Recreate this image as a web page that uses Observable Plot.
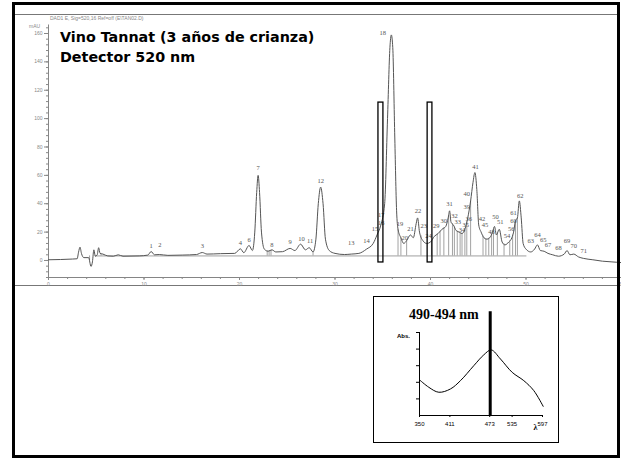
<!DOCTYPE html>
<html><head><meta charset="utf-8">
<script src="https://cdn.jsdelivr.net/npm/d3@7"></script>
<script src="https://cdn.jsdelivr.net/npm/@observablehq/plot@0.6"></script>
<style>
html,body{margin:0;padding:0;background:#fff;}
body{width:621px;height:459px;overflow:hidden;position:relative;font-family:"Liberation Sans",Arial,sans-serif;}
#frame{position:absolute;left:12px;top:2px;width:602px;height:450px;border:3px solid #000;pointer-events:none;z-index:10;}
#topline{position:absolute;left:15px;top:14px;width:603px;border-top:1px solid #777;}
#botline{position:absolute;left:15px;top:285px;width:603px;border-top:1px solid #777;}
#chrom{position:absolute;left:14px;top:14px;width:620px;height:271px;}
#chrom svg{overflow:visible;max-width:none !important;}
#title{position:absolute;left:60px;top:27px;font-family:"DejaVu Sans",sans-serif;font-weight:bold;font-size:14.3px;line-height:20px;color:#000;z-index:5;}
#hdr{position:absolute;left:50px;top:15px;font-size:5px;color:#888;white-space:nowrap;}
#mau{position:absolute;left:29px;top:23px;font-size:5px;color:#888;}
#insetbox{position:absolute;left:373px;top:296px;width:184px;height:145px;border:1.5px solid #000;background:#fff;}
#inset{position:absolute;left:373px;top:296px;width:186px;height:147px;}
#inset svg{overflow:visible;max-width:none !important;}
#ititle{position:absolute;left:409px;top:307px;font-family:"Liberation Serif",serif;font-weight:bold;font-size:14px;color:#000;white-space:nowrap;}
#abs{position:absolute;left:397px;top:333px;font-size:6px;font-weight:bold;color:#000;}
</style></head>
<body>
<div id="topline"></div>
<div id="botline"></div>
<div id="hdr">DAD1 E, Sig=520,16 Ref=off (E\TAN02.D)</div>
<div id="mau">mAU</div>
<div id="chrom"></div>
<div id="title">Vino Tannat (3 años de crianza)<br>Detector 520 nm</div>
<div id="insetbox"></div>
<div id="inset"></div>
<div id="ititle">490-494 nm</div>
<div id="abs">Abs.</div>
<div id="frame"></div>
<script>
// ---- Chromatogram data (retention time, min ; absorbance, mAU) ----
const traceT = [0,2.5,3.0,3.15,3.3,3.45,3.7,4.2,4.45,4.6,4.75,4.9,5.1,5.25,5.4,5.7,6.2,6.8,7.3,7.8,9.5,10.4,10.75,11.1,11.6,12.5,14,15.5,16.1,16.6,18,19.5,20.1,20.45,21.0,21.35,21.6,21.8,21.95,22.1,22.3,22.6,23.0,23.4,23.8,24.5,25.3,25.8,26.4,26.9,27.3,27.7,28.0,28.25,28.5,28.75,29.0,29.4,30.0,31.0,31.7,32.5,33.3,34.0,34.4,34.8,35.2,35.5,35.75,35.9,36.05,36.25,36.45,36.6,36.9,37.2,37.5,37.9,38.2,38.5,38.65,38.85,39.2,39.6,40.0,40.4,40.8,41.2,41.6,41.85,42.0,42.15,42.4,42.7,43.0,43.3,43.6,43.9,44.2,44.45,44.65,44.85,45.05,45.3,45.6,45.9,46.2,46.5,46.7,46.9,47.2,47.5,47.8,48.2,48.45,48.7,48.9,49.1,49.3,49.5,49.7,50.0,50.5,50.9,51.2,51.5,51.9,52.3,52.8,53.4,54.0,54.3,54.6,55.0,55.5,56.0,57.0,58.0,59.0,60.0];
const traceV = [0.5,1.0,1.2,6,9.4,5,2,2,-4.2,-1,7.5,3,4,9,5,4.5,3.2,3,4,3,3.2,3.8,6.3,4,4.2,3.6,3.8,4.2,5.6,4.5,4.8,5,8.2,5.5,10.6,7,20,48,60,48,20,8,6.5,7.5,6,6.2,8.5,7,11.5,7.5,9,6,15,40,51.7,40,15,7,5,4.2,4.5,5,8,12,18,25,40,100,150,159,150,90,35,22,16,12,14,18,16,26,30,20,14,12,13,17,19,22,24,30,35,27,25,21,20,19,22,30,42,55,62,50,25,20,16,15,16,20,24,18,22,13,11,13,15,20,28,30,42,30,12,8,6,8,11,7,6.5,5,4,3,4.5,7,4,4.5,2.5,1.5,0.5,-0.5,-1,-1.5];
const baselineT = [4.9, 50];
const baselineV = [3.2, 3.2];
const dropT = [4.3,4.9,5.5,22.9,23.1,23.3,27.7,36.6,36.9,37.5,39.0,40.1,40.7,41.0,41.4,41.9,42.3,42.5,42.8,43.1,43.3,43.6,43.8,44.2,45.5,45.8,46.1,46.4,46.6,47.0,47.7,48.3,48.6,48.9,49.1];
const peakLabels = ["1","2","3","4","6","7","8","9","10","11","12","13","14","15","16","17","18","19","20","21","22","23","24","29","30","31","32","33","34","35","36","39","40","41","42","45","48","50","51","54","56","60","61","62","63","64","65","67","68","69","70","71"];
const labelT = [10.75,11.65,16.1,20.1,21.0,21.95,23.4,25.3,26.5,27.4,28.5,31.7,33.3,34.2,34.85,34.85,35.0,36.8,37.3,37.9,38.7,39.3,39.8,40.6,41.4,42.0,42.5,42.85,43.3,43.7,44.0,43.8,43.8,44.7,45.4,45.7,46.4,46.8,47.3,48.0,48.45,48.7,48.7,49.4,50.5,51.2,51.8,52.3,53.4,54.3,55.0,56.05];
const labelV = [8.9,9.9,8.7,11,13,64,9.9,11.7,14,12.4,54.7,11,12.4,20.7,25,31,159,24.7,14.5,20.7,33.6,22.7,16,23,26.8,38.3,29.7,25.5,20,23.8,28,36.4,45.8,64.6,28,23.8,18.5,29.4,25.8,15.8,20.5,26.5,32,44,12.2,16.5,13,9.4,7.8,12.2,8.6,5.3];
const boxT1 = [34.55, 39.7];
const boxT2 = [35.07, 40.2];
const boxV1 = [-1.4, -1.4];
const boxV2 = [111.3, 111.3];
const xTicks = [0,10,20,30,40,50,60];
const yTicks = [0,20,40,60,80,100,120,140,160];

// ---- Inset spectrum data (wavelength nm ; relative absorbance) ----
const specL = [350,368.7,388.8,412.2,432.3,459,479,494,512.7,536.1,559.4,579.5,598.4];
const specA = [0.43,0.34,0.28,0.32,0.42,0.60,0.73,0.79,0.68,0.52,0.42,0.30,0.11];
const lambdaMax = 492;
// tick labels as printed in the picture, and where they sit along the wavelength axis
const specTickLabels = ["350","411","473","535","597"];
const specTickAt = [350,411,491,536,597];

// ---- build tables ----
const trace = traceT.map((t,i)=>({t, v: traceV[i]}));
const base = baselineT.map((t,i)=>({t, v: baselineV[i]}));
const interp = t => { const i = d3.bisectRight(traceT, t); const a = i-1, b = Math.min(i, traceT.length-1);
  if (a < 0) return traceV[0]; const f = b===a?0:(t-traceT[a])/(traceT[b]-traceT[a]); return traceV[a] + f*(traceV[b]-traceV[a]); };
const drops = dropT.map(t => ({t, top: interp(t)}));
const labels = peakLabels.map((s,i)=>({s, t: labelT[i], v: labelV[i]}));
const boxes = boxT1.map((t,i)=>({x1: t, x2: boxT2[i], y1: boxV1[i], y2: boxV2[i]}));

const chrom = Plot.plot({
  width: 620, height: 271,
  marginLeft: 34, marginRight: 13, marginTop: 19, marginBottom: 8,
  x: {domain: [0, 60], label: null},
  y: {domain: [-12, 160], label: null},
  style: {background: "transparent", fontFamily: "Liberation Sans", maxWidth: "none"},
  marks: [
    Plot.ruleY([-12], {x1: 0, x2: 60, stroke: "#666", strokeWidth: 0.8}),
    Plot.ruleX([0], {y1: -12, y2: 166, stroke: "#666", strokeWidth: 0.8}),
    Plot.axisX({ticks: d3.range(0, 61, 2), tickSize: 2, tickFormat: () => "", stroke: "#888", label: null}),
    Plot.axisX({ticks: xTicks, tickSize: 3, tickPadding: 1.5, fontSize: 5, fill: "#888", stroke: "#888", label: null}),
    Plot.axisY({ticks: d3.range(-12, 165, 4), tickSize: 2, tickFormat: () => "", stroke: "#888", label: null}),
    Plot.axisY({ticks: yTicks, tickSize: 4, tickPadding: 2, fontSize: 5, fill: "#888", stroke: "#888", label: null}),
    Plot.line(base, {x: "t", y: "v", stroke: "#888", strokeWidth: 0.8}),
    Plot.ruleX(drops, {x: "t", y1: 3.2, y2: "top", stroke: "#8a8a8a", strokeWidth: 0.8}),
    Plot.line(trace, {x: "t", y: "v", stroke: "#555", strokeWidth: 1, curve: "monotone-x"}),
    Plot.text(labels, {x: "t", y: "v", text: "s", fontSize: 6.5, fill: "#555", fontFamily: "Liberation Serif", dy: -2}),
    Plot.rect(boxes, {x1: "x1", x2: "x2", y1: "y1", y2: "y2", fill: "none", stroke: "#000", strokeWidth: 1.3})
  ]
});
document.getElementById("chrom").appendChild(chrom);

const spec = specL.map((l,i)=>({l, a: specA[i]}));
const inset = Plot.plot({
  width: 186, height: 147,
  marginLeft: 46, marginRight: 17, marginTop: 15.25, marginBottom: 28,
  x: {domain: [350, 597], label: null},
  y: {domain: [0, 1.25], label: null},
  style: {background: "transparent", fontFamily: "Liberation Sans", color: "#000", maxWidth: "none"},
  marks: [
    Plot.ruleX([350], {y1: 0, y2: 1, stroke: "#000", strokeWidth: 1}),
    Plot.ruleY([0], {x1: 350, x2: 597, stroke: "#000", strokeWidth: 1}),
    Plot.axisY({ticks: [0.2,0.4,0.6,0.8,1.0], tickSize: 3, tickFormat: () => "", stroke: "#000", label: null}),
    Plot.axisX({ticks: specTickAt, tickSize: 2, tickPadding: 4, fontSize: 6, fill: "#000", stroke: "#000", label: null,
      tickFormat: d => specTickLabels[specTickAt.indexOf(d)]}),
    Plot.line(spec, {x: "l", y: "a", stroke: "#000", strokeWidth: 1, curve: "catmull-rom"}),
    Plot.ruleX([lambdaMax], {y1: 0, y2: 1.25, stroke: "#000", strokeWidth: 3}),
    Plot.text(["λ"], {x: 583, y: 0, dy: 12, text: d => d, fontSize: 8, fontWeight: "bold", fill: "#000", fontFamily: "Liberation Serif"})
  ]
});
document.getElementById("inset").appendChild(inset);
</script>
</body></html>
